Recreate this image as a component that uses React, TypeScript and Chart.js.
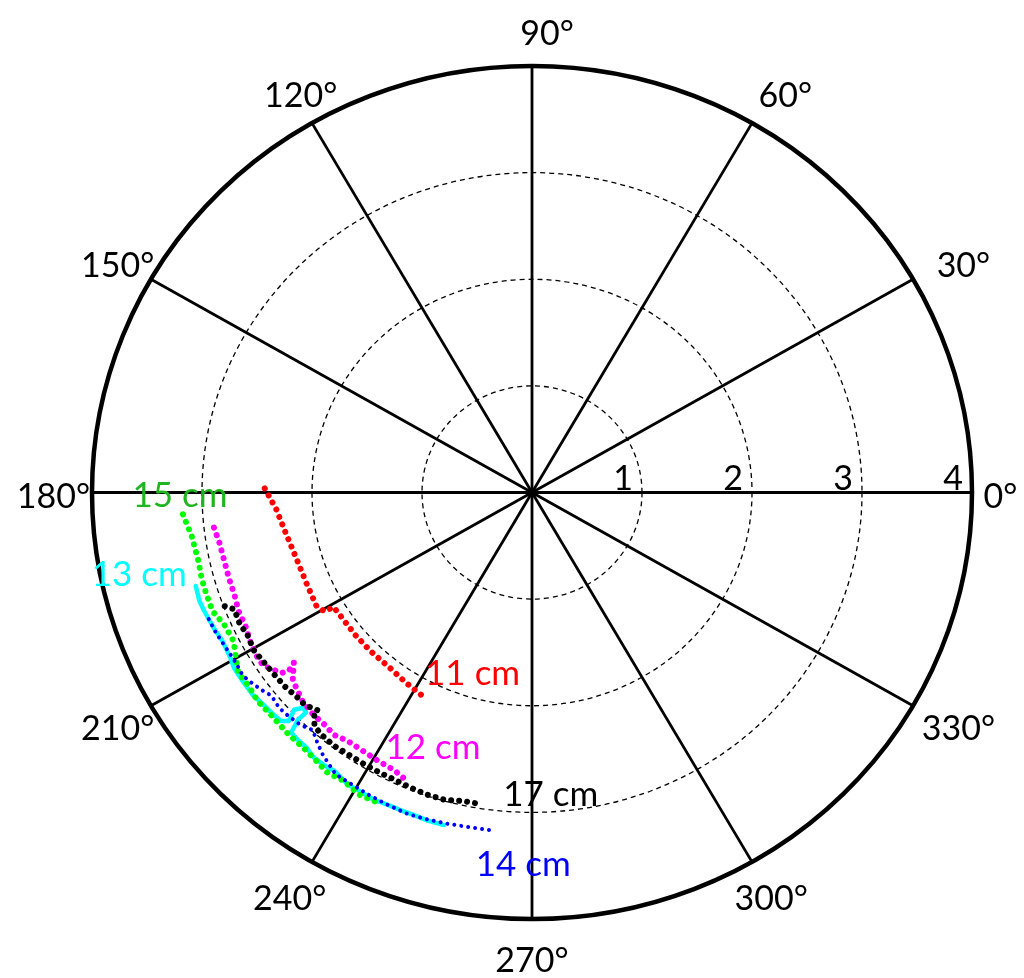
import React, { useEffect, useRef } from "react";
import { Chart, registerables } from "chart.js";

Chart.register(...registerables);

// ---- axis definitions ----
const ANGLE_TICKS = [0, 30, 60, 90, 120, 150, 180, 210, 240, 270, 300, 330];
const RADIAL_TICKS = [1, 2, 3, 4];
const R_MAX = 4;

// ---- series (angle in degrees, radius) ----
const SERIES_NAMES = ["14 cm", "15 cm", "17 cm", "12 cm", "11 cm", "13 cm"];

const theta11 = [179.1, 183.9, 189.7, 196.0, 202.5, 208.6, 210.6, 210.8, 213.7, 219.7, 225.4, 231.2, 237.3, 242.2];
const r11 = [2.43, 2.33, 2.27, 2.23, 2.22, 2.23, 2.19, 2.1, 2.09, 2.09, 2.09, 2.09, 2.12, 2.15];

const theta12 = [186.5, 189.5, 193.0, 196.3, 199.4, 202.7, 205.7, 208.9, 212.2, 213.7, 215.2, 216.6, 217.1, 216.4, 218.8, 220.5, 223.2, 226.4, 229.0, 231.6, 234.3, 237.6, 240.9, 244.3, 247.0];
const r12 = [2.91, 2.88, 2.87, 2.87, 2.87, 2.89, 2.89, 2.92, 2.94, 2.93, 2.88, 2.84, 2.77, 2.69, 2.79, 2.82, 2.86, 2.88, 2.88, 2.9, 2.87, 2.87, 2.88, 2.89, 2.93];

const theta13 = [196.0, 198.6, 200.5, 203.7, 206.4, 209.5, 211.3, 213.9, 216.8, 219.3, 221.6, 223.2, 224.1, 223.3, 224.1, 225.1, 225.05, 225.8, 227.6, 229.3, 231.4, 233.6, 235.4, 238.6, 241.1, 243.5, 245.9, 248.2, 250.5, 252.9, 255.6];
const r13 = [3.18, 3.19, 3.18, 3.16, 3.14, 3.15, 3.17, 3.17, 3.17, 3.15, 3.14, 3.13, 3.08, 2.97, 2.9, 2.91, 3.01, 3.14, 3.15, 3.15, 3.18, 3.18, 3.17, 3.21, 3.21, 3.22, 3.21, 3.21, 3.21, 3.22, 3.22];

const theta14 = [202.0, 204.6, 207.7, 210.7, 213.1, 214.5, 216.9, 218.8, 221.3, 223.3, 226.0, 228.2, 230.2, 232.3, 236.0, 239.0, 242.2, 245.9, 249.5, 252.9, 256.2, 259.5, 263.3];
const r14 = [3.17, 3.16, 3.14, 3.13, 3.14, 3.12, 3.08, 3.04, 3.06, 3.05, 3.03, 2.99, 3.05, 3.11, 3.19, 3.19, 3.2, 3.21, 3.22, 3.21, 3.2, 3.19, 3.19];

const theta15 = [183.7, 187.6, 192.0, 195.0, 197.8, 201.0, 203.9, 207.2, 212.3, 215.2, 218.1, 221.3, 225.8, 229.0, 232.0, 234.8, 237.7, 240.9, 243.9];
const r15 = [3.18, 3.12, 3.1, 3.11, 3.11, 3.11, 3.06, 3.05, 3.16, 3.15, 3.17, 3.16, 3.17, 3.17, 3.19, 3.22, 3.2, 3.24, 3.23];

const theta17 = [200.9, 202.0, 205.1, 207.0, 210.3, 213.3, 215.7, 219.1, 222.1, 224.0, 226.5, 226.6, 227.9, 229.8, 232.8, 235.9, 239.1, 242.1, 245.4, 248.3, 251.5, 254.5, 257.8, 261.0];
const r17 = [2.99, 2.92, 2.93, 2.91, 2.93, 2.91, 2.9, 2.89, 2.87, 2.87, 2.82, 2.88, 2.95, 2.97, 2.98, 2.97, 2.97, 2.97, 2.97, 2.98, 2.99, 2.99, 2.96, 2.96];

const SERIES_THETA = [theta14, theta15, theta17, theta12, theta11, theta13];
const SERIES_R = [r14, r15, r17, r12, r11, r13];

// ---- series label anchors (data units) ----
const LABEL_X = [-0.08, -3.2, 0.17, -0.9, -0.54, -3.57];
const LABEL_Y = [-3.49, -0.03, -2.83, -2.39, -1.7, -0.77];

// ---- styles ----
const LINE_COLORS = ["#0000ff", "#00ff00", "#000000", "#ff00ff", "#ff0000", "#00ffff"];
const TEXT_COLORS = ["#0000ff", "#1fb51f", "#000000", "#ff00ff", "#ff0000", "#00ffff"];
const DOT_SIZE = [4, 6, 6, 6, 6, 4.5];
const DOT_GAP = [7, 8, 8, 8, 8, 0];
// small pixel nudges of the angle labels (style only)
const ANGLE_LABEL_DX = [-10, 17, 14, 15, 8, 0, 0, 0, -3, 0, 0, 12];
const ANGLE_LABEL_DY = 5;

const FONT = "Lato, 'Open Sans', sans-serif";

const toXY = (thetas: number[], rs: number[]) =>
  thetas.map((t, i) => ({
    x: rs[i] * Math.cos((t * Math.PI) / 180),
    y: rs[i] * Math.sin((t * Math.PI) / 180),
  }));

const polarGrid = {
  id: "polarGrid",
  beforeDatasetsDraw(chart: any) {
    const { ctx, scales } = chart;
    const xs = scales.x;
    const ys = scales.y;
    const cx = xs.getPixelForValue(0);
    const cy = ys.getPixelForValue(0);
    const rx = (r: number) => xs.getPixelForValue(r) - cx;
    const ry = (r: number) => cy - ys.getPixelForValue(r);
    ctx.save();
    ctx.strokeStyle = "#000";
    // dashed rings
    ctx.lineWidth = 1.3;
    ctx.setLineDash([5, 4]);
    RADIAL_TICKS.filter((r) => r < R_MAX).forEach((r) => {
      ctx.beginPath();
      ctx.ellipse(cx, cy, rx(r), ry(r), 0, 0, Math.PI * 2);
      ctx.stroke();
    });
    ctx.setLineDash([]);
    // spokes
    ctx.lineWidth = 2.8;
    ANGLE_TICKS.forEach((a) => {
      const t = (a * Math.PI) / 180;
      ctx.beginPath();
      ctx.moveTo(cx, cy);
      ctx.lineTo(xs.getPixelForValue(R_MAX * Math.cos(t)), ys.getPixelForValue(R_MAX * Math.sin(t)));
      ctx.stroke();
    });
    // outer circle
    ctx.lineWidth = 4.5;
    ctx.beginPath();
    ctx.ellipse(cx, cy, rx(R_MAX), ry(R_MAX), 0, 0, Math.PI * 2);
    ctx.stroke();
    // radial tick labels
    ctx.fillStyle = "#000";
    ctx.font = `34px ${FONT}`;
    ctx.textAlign = "right";
    ctx.textBaseline = "alphabetic";
    RADIAL_TICKS.forEach((r) => {
      ctx.fillText(String(r), xs.getPixelForValue(r) - 9, cy - 3);
    });
    // angle labels
    ctx.textAlign = "center";
    ctx.textBaseline = "middle";
    ANGLE_TICKS.forEach((a, i) => {
      const t = (a * Math.PI) / 180;
      const lr = 4.35;
      ctx.fillText(
        `${a}°`,
        xs.getPixelForValue(lr * Math.cos(t)) + ANGLE_LABEL_DX[i],
        ys.getPixelForValue(lr * Math.sin(t)) + ANGLE_LABEL_DY
      );
    });
    ctx.restore();
  },
  afterDatasetsDraw(chart: any) {
    const { ctx, scales } = chart;
    ctx.save();
    ctx.font = `35px ${FONT}`;
    ctx.textAlign = "center";
    ctx.textBaseline = "middle";
    SERIES_NAMES.forEach((name, i) => {
      ctx.fillStyle = TEXT_COLORS[i];
      ctx.fillText(name, scales.x.getPixelForValue(LABEL_X[i]), scales.y.getPixelForValue(LABEL_Y[i]));
    });
    ctx.restore();
  },
};

export default function App() {
  const ref = useRef<HTMLCanvasElement | null>(null);
  useEffect(() => {
    if (!ref.current) return;
    const chart = new Chart(ref.current, {
      type: "scatter",
      data: {
        datasets: SERIES_NAMES.map((name, i) => ({
          label: name,
          data: toXY(SERIES_THETA[i], SERIES_R[i]),
          showLine: true,
          borderColor: LINE_COLORS[i],
          backgroundColor: LINE_COLORS[i],
          borderWidth: DOT_SIZE[i],
          borderDash: DOT_GAP[i] > 0 ? [0.01, DOT_GAP[i]] : [],
          borderCapStyle: "round",
          borderJoinStyle: "round",
          pointRadius: 0,
          tension: 0,
        })),
      },
      options: {
        animation: false,
        responsive: false,
        devicePixelRatio: 1,
        layout: { padding: { left: 92, right: 52, top: 66, bottom: 59 } },
        scales: {
          x: { type: "linear", min: -R_MAX, max: R_MAX, display: false },
          y: { type: "linear", min: -R_MAX, max: R_MAX, display: false },
        },
        plugins: { legend: { display: false }, tooltip: { enabled: false } },
      },
      plugins: [polarGrid],
    });
    return () => chart.destroy();
  }, []);
  return (
    <div style={{ position: "absolute", left: 0, top: 0, width: 1024, height: 978, background: "#fff" }}>
      <canvas ref={ref} width={1024} height={978} />
    </div>
  );
}
